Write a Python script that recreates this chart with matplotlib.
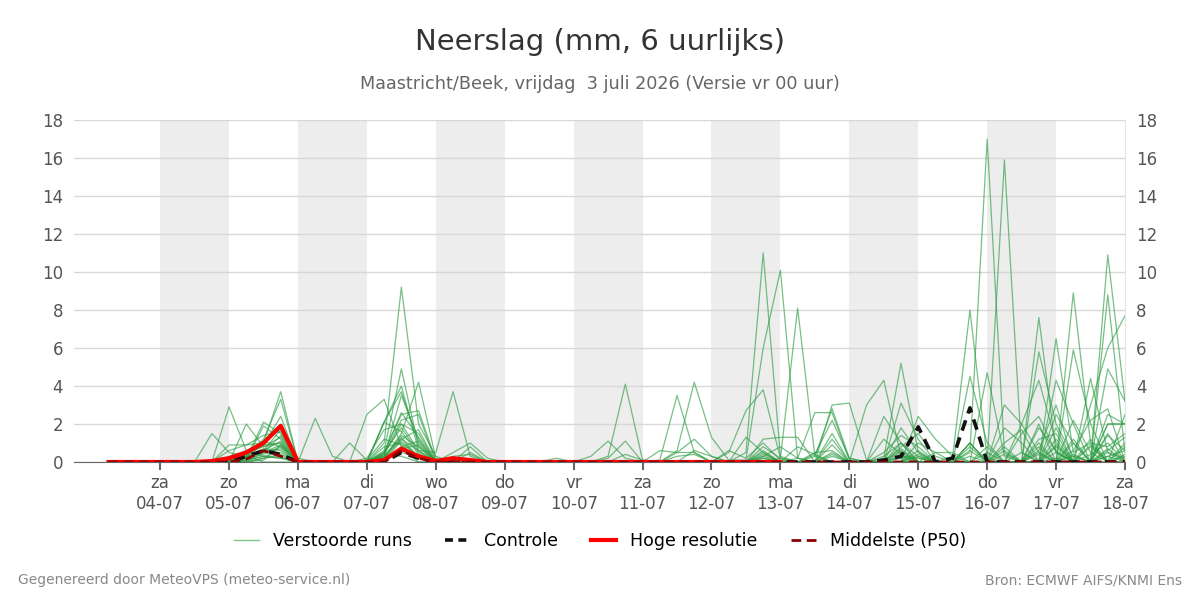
import matplotlib
matplotlib.use("Agg")
import matplotlib.pyplot as plt
from matplotlib.lines import Line2D
import pandas as pd
import numpy as np

plt.rcParams['font.family'] = ['DejaVu Sans']

# ---------------- data ----------------
times = pd.date_range('2026-07-03 06:00', periods=60, freq='6h')

day_names = ['za', 'zo', 'ma', 'di', 'wo', 'do', 'vr', 'za', 'zo', 'ma', 'di', 'wo', 'do', 'vr', 'za']
day_dates = pd.date_range('2026-07-04', periods=15, freq='D')
shaded_days = ['2026-07-04', '2026-07-06', '2026-07-08', '2026-07-10',
               '2026-07-12', '2026-07-14', '2026-07-16']

m01 = [0,0,0,0,0,0,1.5,0.5,0.3,0, 0,0,0,0,0,0,1.0,9.2,2.0,0.3, 0,0,0,0,0,0,0,0,0,0.3,
       4.1,0.1,0,0,0,0,0,0,0.8,0.2, 0,0,0,0,0,0,1.0,0.3,0,0, 0.5,17.0,0.5,0,1.8,0.6,0,0,2.0,2.0]
m02 = [0,0,0,0,0,0,0,2.9,0.6,0.3, 0.2,0,0,0,0,0,0.6,4.9,0.8,0, 0,0,0,0,0,0,0,0,0,0,
       0,0,0.1,3.5,0.5,0,0,0.5,11.0,0.3, 0,0,0,0,0,0.3,1.0,0,0,0, 1.0,0,15.9,0.5,0,1.2,0,0,10.9,3.2]
m03 = [0,0,0,0,0,0,0,0,2.0,0.8, 1.0,0,0,0,0,2.5,3.3,0.8,0,0, 0,0,0,0,0,0,0,0,0,0,
       0,0,0,0.6,4.2,1.3,0.1,0.1,6.0,10.1, 0.2,0,0,0,3.0,4.3,0.3,0,0,0.3, 8.0,0.2,0,0,0,6.5,0.5,1.0,0,0]
m04 = [0,0,0,0,0,0,0,0,0.2,2.1, 1.5,0,0,0,0,0,2.1,4.0,0.6,0, 0,0,0,0,0,0,0,0,0.3,1.1,
       0.2,0,0,0,0,0,0.5,2.7,3.8,0.2, 0,0,0,0,0,0.2,5.2,0.5,0,0, 4.5,1.0,0,0,5.8,2.0,0.3,0,8.8,0.5]
m05 = [0,0,0,0,0,0,0,0,0.1,1.9, 1.2,0,0,0,0,0,2.1,3.7,1.0,0, 0,0,0,0,0,0,0,0,0,0.2,
       1.1,0,0,0,0,0,0,0,0,0.2, 8.1,0.3,0,0,0,0,3.1,1.2,0,0, 0,4.7,0.3,0,0,0,8.9,1.0,0.8,1.5]
m06 = [0,0,0,0,0,0,0,0.2,0.5,1.0, 3.7,0,0,0,0,0.1,0.3,3.5,1.2,0, 0,0,0,0,0,0,0,0,0,0,
       0,0,0,0.5,1.2,0.3,0,0,0,0, 0.2,2.6,2.6,0.1,0,2.4,1.0,0,0,0, 0,0,3.0,2.0,0.5,0,5.9,2.0,0,2.5]
m07 = [0,0,0,0,0,0,0,0,0.4,1.2, 3.3,0,0,0,0,0,0.2,1.5,4.2,0.2, 0,0,0,0,0,0,0,0,0,0,
       0,0,0.6,0.5,0.5,0,0,0,0.2,0, 0,0,3.0,3.1,0.1,0,0,2.4,1.2,0.3, 0,0,0,2.0,4.3,1.0,0,4.4,0.5,0]
m08 = [0,0,0,0,0,0,0,0,0.3,0.9, 2.4,0,0,0,0,0,0.5,2.5,2.7,0.1, 0,0,0,0,0,0,0,0,0,0,
       0,0,0,0,0.6,0.3,0,0,0,0, 0,0.3,2.8,0.2,0,0,1.8,0.5,0,0, 0,0,0,0,7.6,0.5,0,3.0,6.0,7.7]
m09 = [0,0,0,0,0,0,0,0.3,0.6,1.1, 2.0,0.2,0,0,0,0,0.4,2.2,2.5,0, 0,0,0,0,0,0,0,0,0,0,
       0.4,0.1,0,0,0,0,0,0,1.2,1.3, 1.3,0,0,0,0,0.5,1.4,0.8,0,0, 0,0,0,0,0,4.3,2.0,0,4.9,3.2]
m10 = [0,0,0,0,0,0,0,0.9,0.9,1.0, 1.9,0,0,0,0,0.2,1.7,2.0,1.5,0, 0,0,0,0,0,0,0,0,0,0,
       0,0,0,0,0,0,0.6,0.2,1.0,0.1, 0,0.4,2.2,0.2,0,0,0.8,1.5,0.3,0, 0,0,0,0,1.2,1.5,0,0,2.5,2.0]
m11 = [0,0,0,0,0,0,0,0.6,0.9,1.4, 1.6,0,0,0,0,0,0.3,1.2,0.6,0.5, 3.7,0.3,0,0,0,0,0.2,0,0,0,
       0,0,0,0,0,0,0,1.3,0.5,0, 0,0,1.5,0,0,0,0,1.0,0.5,0, 1.0,0,1.8,1.0,0,0,1.2,0,1.5,0]
m12 = [0,0,0,0,0,0,0,0.1,0.5,0.8, 1.3,0,0,0,0,0,0.2,1.2,1.7,0, 0,0,0,0,0,0,0,0,0,0,
       0,0,0,0.3,0.4,0,0,0,0.6,0, 0,0,1.2,0,0,0,0,0,0.5,0.5, 0,0.8,0,1.5,2.4,0.5,0,0.8,0,1.0]
m13 = [0,0,0,0,0,0,0,0,0.3,0.6, 1.1,0,0,0,0,0,0.8,1.0,0.3,0, 0.5,1.0,0.2,0,0,0,0,0,0,0,
       0,0,0,0,0,0,0,0,0.5,0, 0.8,0.4,0,0,0,0,0.6,0,0,0, 0.6,0,0.8,0,1.0,0,2.2,0.5,0,0]
m14 = [0,0,0,0,0,0,0,0,0.2,0.5, 0.9,0,2.3,0.3,0,0,0.3,1.4,0.8,0, 0,0.8,0,0,0,0,0,0,0,0,
       0,0,0,0,0,0,0,0,0,0, 0,0,0.9,0,0,1.2,0.4,0,0,0, 0,0,0,0.5,0,2.5,1.0,0,1.4,0.6]
m15 = [0,0,0,0,0,0,0,0.1,0.2,0.4, 0.8,0,0,0,0,0,0.5,1.8,0.5,0, 0,0,0,0,0,0,0,0,0,0,
       0,0,0,0,0,0,0,0,0.3,0.8, 0.2,0,0,0,0,0,0.5,0,0,0, 1.0,0,0,0,0.6,3.0,0,1.2,0,0.3]
m16 = [0,0,0,0,0,0,0,0,0.2,0.7, 0.6,0,0,0,0,0,0.2,0.8,1.1,0, 0,0.5,0,0,0,0,0,0,0,0,
       0,0,0,0,0,0,0,0,0,0, 0,0.5,0.6,0,0,0,0.2,0,0,0, 0,0,1.0,1.7,0,0.8,0,0,2.0,2.0]
m17 = [0,0,0,0,0,0,0,0,0.1,0.3, 0.5,0,0,0,0,0,0.3,1.3,0.2,0, 0,0,0,0,0,0,0,0,0,0,
       0,0,0,0,0,0,0,0,0.2,0, 0,0,0.3,0,0,0,0.3,0.2,0,0, 0,0,0,0,2.0,0,0.6,2.2,2.8,0]
m18 = [0,0,0,0,0,0,0,0,0.4,1.1, 0.8,0,0,0,0,0,0.1,0.6,0.4,0, 0.3,0.4,0,0,0,0,0,0,0,0,
       0,0,0,0,0,0,0,0,0,0, 0,0,0,0,0,0,0,0.4,0,0, 0.8,0,0,0,0,1.8,0,0.4,1.0,0]
m19 = [0,0,0,0,0,0,0,0,0,0.5, 1.4,0,0,0,0,0,0.4,2.0,0.6,0, 0,0,0,0,0,0,0,0,0,0,
       0,0,0,0,0,0,0,0,0.3,0, 0,0,0.5,0,0,0,0,0.3,0,0, 0,0.5,0,0,0.8,0,0.4,0,0.6,1.3]
m20 = [0,0,0,0,0,0,0,0,0,0.2, 0.4,0,0,0,1.0,0.1,1.2,0.9,0.2,0, 0,0,0,0,0,0,0,0,0,0,
       0,0,0,0,0,0,0,0,0,0, 0,0,0,0,0,0,0.7,0,0,0, 0,0,0.6,0,0,0.5,0,0.9,0,0.4]
m21 = [0,0,0,0,0,0,0,0,0.3,0.5, 0.7,0,0,0,0,0,0.2,0.5,0.3,0, 0,0,0,0,0,0,0,0,0,0,
       0,0,0,0,0,0,0,0,0.4,0, 0,0,0.4,0,0,0,0,0,0,0, 0.3,0,0,0,0.4,0,1.0,0,0,0.8]
m22 = [0,0,0,0,0,0,0,0.1,0.4,0.9, 1.0,0,0,0,0,0,2.1,1.6,0.4,0, 0,0,0,0,0,0,0,0,0,0,
       0,0,0,0,0,0,0,0,0,0, 0,0,0,0,0,0,0,0.6,0,0, 0,0,0.4,0,0,0.9,0,0,0.7,0]
m23 = [0,0,0,0,0,0,0,0,0,0.2, 0.3,0,0,0,0,0,0.2,0.7,0.9,0, 0,0,0,0,0,0,0,0,0,0,
       0,0,0,0,0,0,0,0,0,0, 0,0,0,0,0,0,0,0,0,0, 0,0,0,0,0,0,0.3,0,0.5,0.2]
m24 = [0,0,0,0,0,0,0,0,0.2,0.6, 1.7,0,0,0,0,0,0.1,1.1,0.3,0, 0,0,0,0,0,0,0,0,0,0,
       0,0,0,0,0,0,0,0,0,0, 0,0,0,0,0,0,0.3,0.2,0,0, 0,0,0,0,0.5,0,0,0,0.3,0.6]
m25 = [0,0,0,0,0,0,0,0,0.1,0.3, 0.2,0,0,0,0,0,0.4,0.3,0,0, 0,0,0,0,0,0,0,0,0,0,
       0,0,0,0,0,0,0,0,0,0, 0,0,0,0,0,0,0,0,0,0, 0,0,0,0,0,0.2,0,0,0.3,0]
m26 = [0,0,0,0,0,0,0,0,0,0.1, 0.9,0,0,0,0,0,0.5,2.6,1.3,0, 0,0,0,0,0,0,0,0,0,0,
       0,0,0,0,0,0,0,0,0,0, 0,0,0,0,0,0,0,0,0,0, 0,0,0,0,0,0,0,0,0,0]

members = [m01, m02, m03, m04, m05, m06, m07, m08, m09, m10, m11, m12, m13,
           m14, m15, m16, m17, m18, m19, m20, m21, m22, m23, m24, m25, m26]

control = [0,0,0,0,0,0,0,0,0.3,0.6, 0.4,0,0,0,0,0,0,0.5,0.2,0, 0,0,0,0,0,0,0,0,0,0,
           0,0,0,0,0,0,0,0,0,0, 0,0,0,0,0,0.1,0.3,1.85,0,0.2, 2.85,0,0,0,0,0,0,0,0,0]
hires = [0,0,0,0,0,0,0.05,0.2,0.5,1.0, 1.9,0,0,0,0,0,0.1,0.7,0.3,0.05, 0.2,0.1,0,0,0,0,0,0,0,0,
         0,0,0,0,0,0,0,0,0,0]
p50 = [0,0,0,0,0,0,0,0,0.15,0.6, 0.3,0,0,0,0,0,0,0.6,0.2,0, 0,0,0,0,0,0,0,0,0,0,
       0,0,0,0,0,0,0,0,0,0, 0,0,0,0,0,0,0,0,0,0, 0,0,0,0,0,0,0,0,0,0]

title = 'Neerslag (mm, 6 uurlijks)'
subtitle = 'Maastricht/Beek, vrijdag  3 juli 2026 (Versie vr 00 uur)'
legend_labels = ['Verstoorde runs', 'Controle', 'Hoge resolutie', 'Middelste (P50)']
footer_left = 'Gegenereerd door MeteoVPS (meteo-service.nl)'
footer_right = 'Bron: ECMWF AIFS/KNMI Ens'

# ---------------- plot ----------------
fig = plt.figure(figsize=(12, 6), dpi=100)
ax = fig.add_axes([74/1200, 1-462/600, (1125-74)/1200, (462-120)/600])

x0 = pd.Timestamp('2026-07-02 18:00')
x1 = pd.Timestamp('2026-07-18 00:00')

for d in shaded_days:
    s = pd.Timestamp(d)
    ax.axvspan(s, s + pd.Timedelta(days=1), color='#ededed', lw=0, zorder=0)

green = '#2e9e44'
for m in members:
    ax.plot(times, m, color=green, lw=0.9, alpha=0.65, zorder=2)

ax.plot(times, control, color='#111111', lw=2.6, ls=(0, (3, 2)), zorder=3)
ax.plot(times[:len(hires)], hires, color='#ff0000', lw=3, zorder=4)
ax.plot(times, p50, color='#8b0000', lw=2, ls=(0, (3.5, 2)), zorder=5)

ax.set_xlim(x0, x1)
ax.set_ylim(0, 18)
ax.set_yticks(np.arange(0, 19, 2))
ax.grid(axis='y', color='#d8d8d8', lw=1)
ax.set_axisbelow(True)

ax.set_xticks(day_dates)
ax.set_xticklabels([f'{n}\n{d.strftime("%d-%m")}' for n, d in zip(day_names, day_dates)])

for s in ['left', 'top']:
    ax.spines[s].set_visible(False)
ax.spines['right'].set_color('#e6e6e6')
ax.spines['bottom'].set_color('#666666')
ax.tick_params(axis='x', colors='#666666', length=6, width=1.5, labelsize=12,
               labelcolor='#555555', pad=3)
ax.tick_params(axis='y', length=0, labelsize=12, labelcolor='#555555',
               labelleft=True, labelright=True, pad=8)

fig.text(0.5, 1-42/600, title, ha='center', va='center', fontsize=21, color='#333333')
fig.text(0.5, 1-84/600, subtitle, ha='center', va='center', fontsize=12.7, color='#666666')

handles = [
    Line2D([], [], color='#7cc68a', lw=1),
    Line2D([], [], color='#111111', lw=2.6, ls=(0, (2.2, 1.5))),
    Line2D([], [], color='#ff0000', lw=3),
    Line2D([], [], color='#8b0000', lw=2, ls=(0, (3.5, 2))),
]
fig.legend(handles, legend_labels, loc='center', bbox_to_anchor=(0.5, 1-541/600),
           ncol=4, frameon=False, fontsize=12.5, handlelength=1.45, columnspacing=1.9,
           handletextpad=0.8)

fig.text(18/1200, 1-580/600, footer_left, ha='left', va='center', fontsize=10, color='#888888')
fig.text(1182/1200, 1-580/600, footer_right, ha='right', va='center', fontsize=10, color='#888888')

fig.savefig('out.png', dpi=100)
